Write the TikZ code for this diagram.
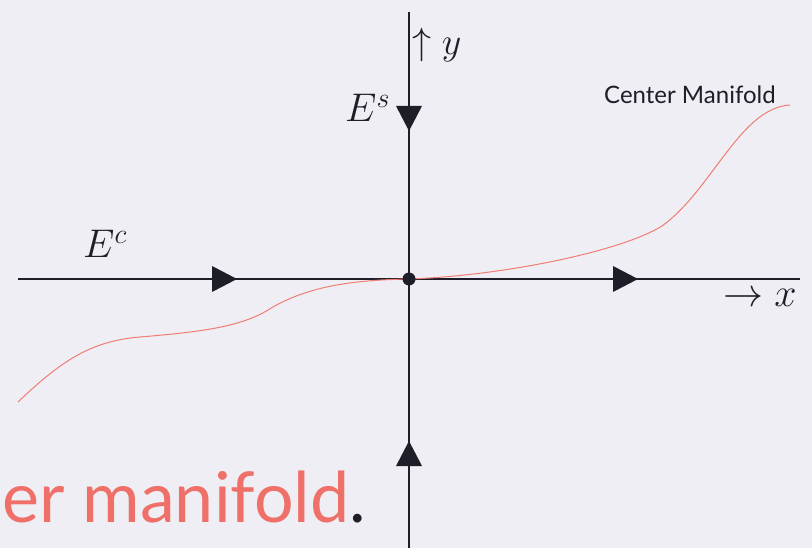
\RequirePackage{fix-cm}
\documentclass[tikz,border=0pt]{standalone}
\usepackage{fontspec}
\newfontfamily\gill{Lato}
\definecolor{bgc}{RGB}{239,238,244}
\definecolor{redc}{RGB}{238,112,104}
\definecolor{curvec}{RGB}{240,125,115}
\definecolor{inkc}{RGB}{30,30,40}
\tikzset{
  axis/.style={line width=1.7pt, draw=inkc},
  tri/.style={fill=inkc},
  manifold/.style={draw=curvec, line width=1pt},
  mlabel/.style={inner sep=0pt, text=inkc},
}
\begin{document}
\begin{tikzpicture}[x=1pt,y=-1pt]
\fill[bgc] (0,0) rectangle (812,548);
\useasboundingbox (0,0) rectangle (812,548);
% axes
\coordinate (xl) at (18,279);
\coordinate (xr) at (800,279);
\coordinate (yt) at (409,12);
\coordinate (yb) at (409,548);
\draw[axis] (xl) -- (xr);
\draw[axis] (yt) -- (yb);
% manifold curve
\draw[manifold] (18,402) .. controls (60,362) and (90,341) .. (140,337)
  .. controls (200,332) and (240,327) .. (268,310)
  .. controls (305,287) and (350,280) .. (409,279)
  .. controls (500,276) and (620,252) .. (662,226)
  .. controls (712,190) and (740,108) .. (790,105);
% origin
\node[circle, fill=inkc, inner sep=0pt, minimum size=13pt] (O) at (409,279) {};
% triangles
\fill[tri] (212,266) -- (237,279) -- (212,292) -- cycle;
\fill[tri] (613,266) -- (638,279) -- (613,292) -- cycle;
\fill[tri] (396,106) -- (422,106) -- (409,131) -- cycle;
\fill[tri] (396,466) -- (422,466) -- (409,441) -- cycle;
% labels
\node[mlabel, anchor=base west] (Es) at (345,122) {\fontsize{40}{44}\selectfont $E^s$};
\node[mlabel, anchor=base west] (Ec) at (83,258) {\fontsize{40}{44}\selectfont $E^c$};
\node[mlabel, anchor=base west] (ylab) at (412,55) {\fontsize{38}{42}\selectfont $\uparrow y$};
\node[mlabel, anchor=base west] (xlab) at (723,307) {\fontsize{40}{44}\selectfont $\rightarrow x$};
\node[mlabel, anchor=base west] (cm) at (604,104) {\gill\fontsize{24}{28}\selectfont Center Manifold};
\node[inner sep=0pt, anchor=base west, text=redc] (big) at (2,522) {\gill\fontsize{70}{76}\selectfont er manifold\textcolor{inkc}{.}};
\end{tikzpicture}
\end{document}
